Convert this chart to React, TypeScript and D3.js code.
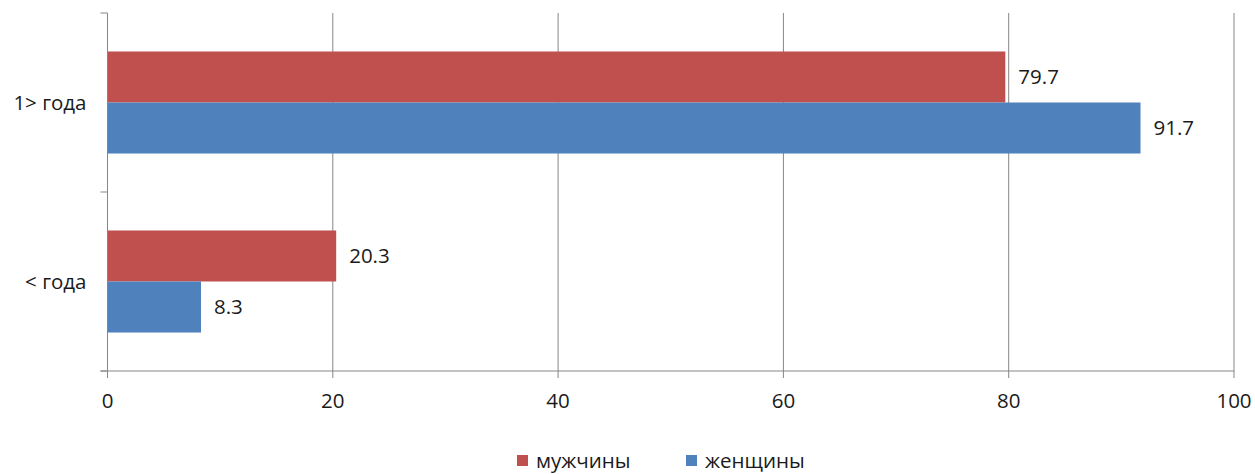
import React from "react";
import * as d3 from "d3";

const categories = ["1> года", "< года"];
const seriesNames = ["мужчины", "женщины"];
const men = [79.7, 20.3];
const women = [91.7, 8.3];
const xTicks = [0, 20, 40, 60, 80, 100];
const colors = ["#C0504D", "#4F81BD"];

const W = 1255;
const H = 474;
const M = { left: 107.5, right: 21, top: 13, bottom: 103 };
const FONT = "'Open Sans', sans-serif";
const FS = 20.5;

export default function App() {
  const x = d3.scaleLinear().domain([0, 100]).range([M.left, W - M.right]);
  const y = d3.scaleBand().domain(categories).range([M.top, H - M.bottom]).paddingInner(0.43).paddingOuter(0.215);
  const inner = d3.scaleBand().domain(seriesNames).range([0, y.bandwidth()]);
  const values = [men, women];
  const axisColor = "#868686";
  const bottom = H - M.bottom;
  const step = (bottom - M.top) / categories.length;
  const catTicks = d3.range(categories.length + 1).map((i) => M.top + i * step);

  return (
    <svg width={W} height={H} style={{ position: "absolute", left: 0, top: 0 }} fontFamily={FONT}>
      {xTicks.slice(1).map((t) => (
        <line key={"g" + t} x1={x(t)} x2={x(t)} y1={M.top} y2={bottom} stroke={axisColor} strokeWidth={1} />
      ))}
      {categories.map((c, ci) =>
        seriesNames.map((s, si) => {
          const v = values[si][ci];
          const yy = (y(c) as number) + (inner(s) as number);
          return (
            <g key={c + s}>
              <rect x={x(0)} y={yy} width={x(v) - x(0)} height={inner.bandwidth()} fill={colors[si]} />
              <text x={x(v) + 13} y={yy + inner.bandwidth() / 2} dy="0.35em" fontSize={FS} fill="#1a1a1a">
                {v.toFixed(1)}
              </text>
            </g>
          );
        })
      )}
      <line x1={M.left} x2={M.left} y1={M.top} y2={bottom} stroke={axisColor} />
      {catTicks.map((t, i) => (
        <line key={"yt" + i} x1={M.left - 7} x2={M.left} y1={t} y2={t} stroke={axisColor} />
      ))}
      {categories.map((c) => (
        <text key={c} x={M.left - 21} y={(y(c) as number) + y.bandwidth() / 2} dy="0.35em" textAnchor="end" fontSize={FS} fill="#1a1a1a">
          {c}
        </text>
      ))}
      <line x1={M.left - 7} x2={W - M.right} y1={bottom} y2={bottom} stroke={axisColor} />
      {xTicks.map((t) => (
        <g key={"xt" + t}>
          <line x1={x(t)} x2={x(t)} y1={bottom} y2={bottom + 7} stroke={axisColor} />
          <text x={x(t)} y={bottom + 30} dy="0.35em" textAnchor="middle" fontSize={FS} fill="#1a1a1a">
            {t}
          </text>
        </g>
      ))}
      {seriesNames.map((s, i) => {
        const lx = [517, 686][i];
        return (
          <g key={"l" + s}>
            <rect x={lx} y={455} width={11} height={11} fill={colors[i]} />
            <text x={lx + 19} y={461} dy="0.35em" fontSize={FS} fill="#1a1a1a">
              {s}
            </text>
          </g>
        );
      })}
    </svg>
  );
}
